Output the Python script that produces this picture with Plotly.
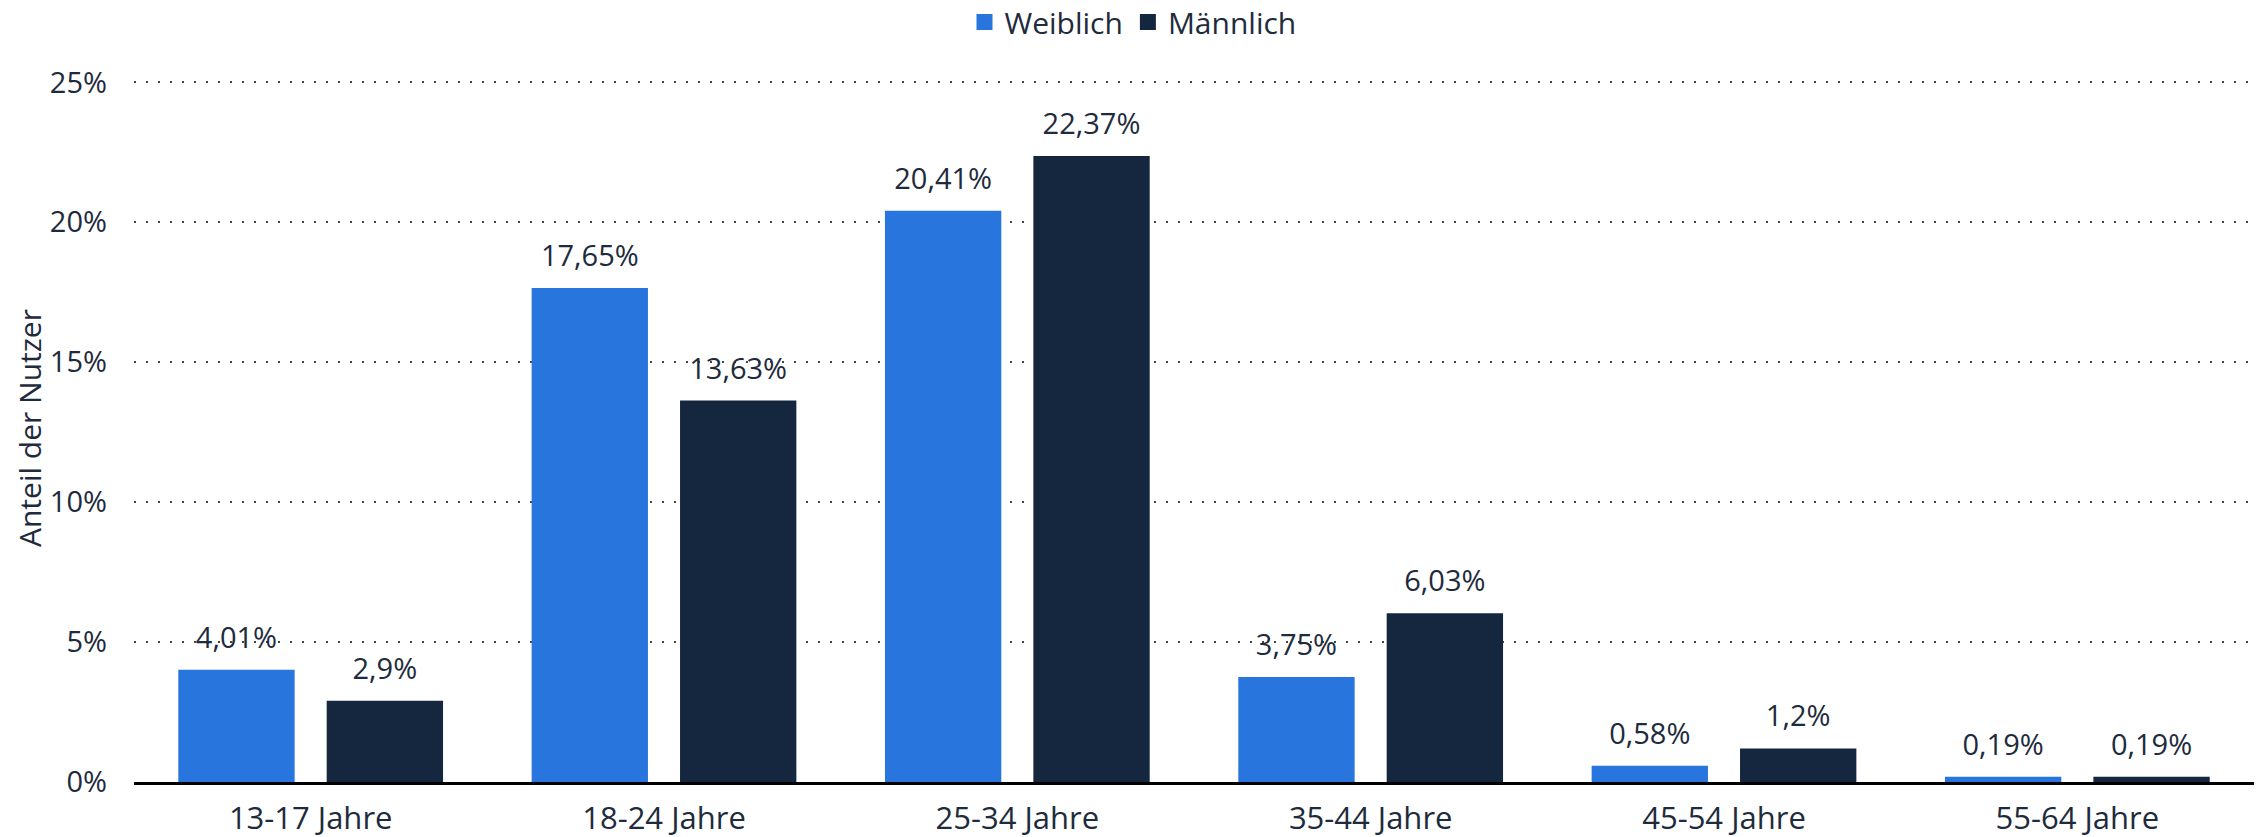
import plotly.graph_objects as go

categories = ["13-17 Jahre", "18-24 Jahre", "25-34 Jahre", "35-44 Jahre", "45-54 Jahre", "55-64 Jahre"]
weiblich = [4.01, 17.65, 20.41, 3.75, 0.58, 0.19]
maennlich = [2.9, 13.63, 22.37, 6.03, 1.2, 0.19]
series_names = ["Weiblich", "Männlich"]
colors = ["#2876dd", "#14273f"]
y_ticks = [0, 5, 10, 15, 20, 25]
y_title = "Anteil der Nutzer"


def fmt(v):
    s = ("%.2f" % v).rstrip("0").rstrip(".")
    return s.replace(".", ",") + "%"


TEXT = "#1e2b3c"
FONT = "Open Sans"

W, H = 2266, 837
ML, MR, MT, MB = 134, 12, 74, 55
BARGAP = 0.16

fig = go.Figure()
for i, (name, vals) in enumerate(zip(series_names, [weiblich, maennlich])):
    fig.add_trace(go.Bar(
        x=categories, y=vals, name=name, offsetgroup=str(i),
        marker=dict(color=colors[i], line=dict(width=0)),
        showlegend=False, hoverinfo="skip",
    ))
for i, (name, vals) in enumerate(zip(series_names, [weiblich, maennlich])):
    # value labels, grouped like the bars
    fig.add_trace(go.Scatter(
        x=categories, y=vals, mode="markers+text", offsetgroup=str(i),
        text=[fmt(v) for v in vals], textposition="top center",
        textfont=dict(family=FONT, size=29, color=TEXT),
        marker=dict(size=22, color="rgba(0,0,0,0)"),
        showlegend=False, cliponaxis=False, hoverinfo="skip",
    ))
for i, name in enumerate(series_names):
    # legend entries with larger square keys
    fig.add_trace(go.Scatter(
        x=[None], y=[None], mode="markers", name=name,
        marker=dict(symbol="square", size=20, color=colors[i]),
    ))

fig.update_layout(
    width=W, height=H,
    margin=dict(l=ML, r=MR, t=MT, b=MB, autoexpand=False),
    paper_bgcolor="white", plot_bgcolor="white",
    barmode="group", bargap=BARGAP, bargroupgap=0.216,
    scattermode="group", scattergap=BARGAP,
    font=dict(family=FONT, size=29, color=TEXT),
    legend=dict(orientation="h", xref="container", x=0.5, xanchor="center",
                yref="container", y=1 - 22 / H, yanchor="middle",
                font=dict(family=FONT, size=30, color=TEXT),
                itemsizing="trace", traceorder="normal", itemwidth=30),
    separators=",.",
    showlegend=True,
)
fig.update_xaxes(showgrid=False, showline=True, linecolor="black", linewidth=3,
                 ticks="", ticklabelstandoff=7, automargin=False,
                 tickfont=dict(family=FONT, size=31, color=TEXT))
fig.update_yaxes(range=[0, 25.3], tickvals=y_ticks, ticktext=[f"{t}%" for t in y_ticks],
                 showgrid=True, gridcolor="#444444", griddash="2px,10px", gridwidth=2,
                 zeroline=False, showline=False, ticks="", ticklabelstandoff=26,
                 automargin=False,
                 tickfont=dict(family=FONT, size=29, color=TEXT))
fig.add_annotation(text=y_title, xref="paper", yref="paper",
                   x=-(ML - 29) / (W - ML - MR), y=0.5, textangle=-90,
                   showarrow=False, xanchor="center", yanchor="middle",
                   font=dict(family=FONT, size=30, color=TEXT))

fig.write_html("out.html", config={"displayModeBar": False},
               post_script="document.body.style.margin='0';document.body.style.overflow='hidden';")
